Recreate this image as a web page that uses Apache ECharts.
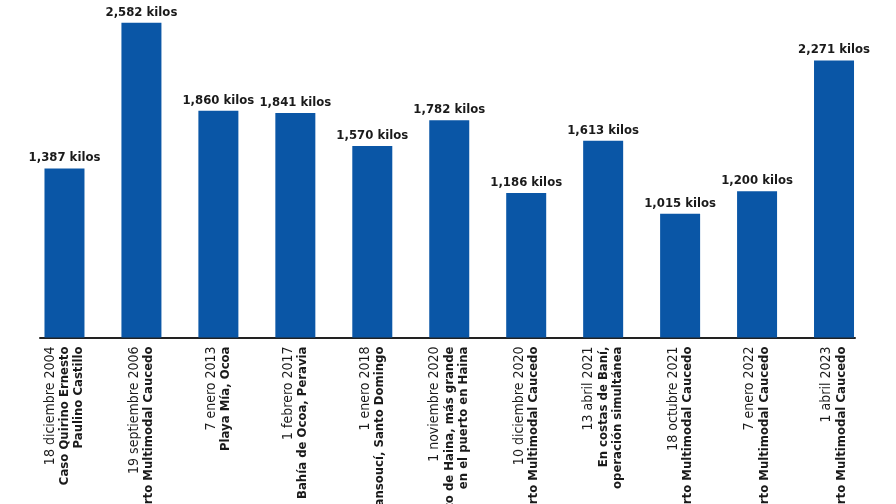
<!DOCTYPE html>
<html>
<head>
<meta charset="utf-8">
<script src="https://cdn.jsdelivr.net/npm/echarts@6/dist/echarts.min.js"></script>
<style>
html,body{margin:0;padding:0;background:#fff;}
#c{width:896px;height:504px;}
</style>
</head>
<body>
<div id="c"></div>
<script>
const dates = ["18 diciembre 2004","19 septiembre 2006","7 enero 2013","1 febrero 2017","1 enero 2018","1 noviembre 2020","10 diciembre 2020","13 abril 2021","18 octubre 2021","7 enero 2022","1 abril 2023"];
const places = [
  ["Caso Quirino Ernesto","Paulino Castillo"],
  ["Puerto Multimodal Caucedo"],
  ["Playa Mía, Ocoa"],
  ["Bahía de Ocoa, Peravia"],
  ["Sansoucí, Santo Domingo"],
  ["Puerto de Haina, más grande","en el puerto en Haina"],
  ["Puerto Multimodal Caucedo"],
  ["En costas de Baní,","operación simultánea"],
  ["Puerto Multimodal Caucedo"],
  ["Puerto Multimodal Caucedo"],
  ["Puerto Multimodal Caucedo"]
];
const kilos = [1387,2582,1860,1841,1570,1782,1186,1613,1015,1200,2271];

const FONT = "'DejaVu Sans Condensed','Liberation Sans Narrow','Roboto',sans-serif";
const categories = dates.map((d,i)=>String(i));

const chart = echarts.init(document.getElementById('c'), null, {renderer:'canvas'});
chart.setOption({
  animation:false,
  backgroundColor:'#fff',
  grid:[
    {left:26,right:23.5,top:20.5,bottom:166.5,containLabel:false,outerBoundsMode:'none'},
    {left:40,right:41,top:20.5,bottom:166,containLabel:false,outerBoundsMode:'none'}
  ],
  xAxis:[
    {
      type:'category', gridIndex:0, data:categories,
      axisLine:{show:false}, axisTick:{show:false},
      axisLabel:{
        rotate:90, margin:9, interval:0,
        formatter:(v)=>{
          const idx = Number(v);
          let s = '{d|'+dates[idx]+'}';
          places[idx].forEach(p=>{ s += '\n{p|'+p+'}'; });
          return s;
        },
        rich:{
          d:{fontFamily:FONT,fontSize:14,fontWeight:'normal',color:'#1a1a1a',lineHeight:14.5},
          p:{fontFamily:FONT,fontSize:13,fontWeight:'bold',color:'#1a1a1a',lineHeight:14.5}
        }
      }
    },
    {
      type:'value', gridIndex:1, min:0, max:1,
      axisLine:{show:true,onZero:false,lineStyle:{color:'#222',width:2}},
      axisTick:{show:false}, axisLabel:{show:false}, splitLine:{show:false}
    }
  ],
  yAxis:[
    {type:'value',gridIndex:0,min:0,max:2600,show:false,splitLine:{show:false}},
    {type:'value',gridIndex:1,min:0,max:1,show:false,splitLine:{show:false}}
  ],
  series:[{
    type:'bar', xAxisIndex:0, yAxisIndex:0,
    data:kilos, barWidth:40,
    itemStyle:{color:'#0a56a6'},
    label:{
      show:true, position:'top', distance:4,
      formatter:p=>p.value.toLocaleString('en-US')+' kilos',
      fontFamily:FONT, fontSize:13, fontWeight:'bold', color:'#1a1a1a'
    }
  }]
});
</script>
</body>
</html>
